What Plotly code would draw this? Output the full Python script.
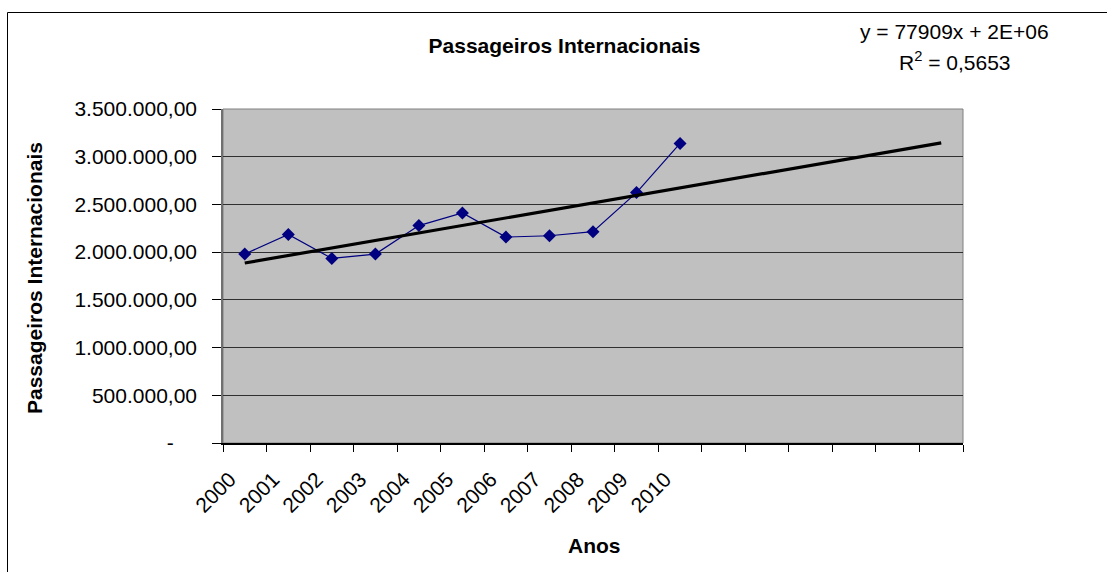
import numpy as np
import plotly.graph_objects as go

# ---- data ----
years = ["2000", "2001", "2002", "2003", "2004", "2005", "2006", "2007", "2008", "2009", "2010"]
passageiros = [1980000, 2186000, 1934000, 1980000, 2278000, 2410000, 2158000, 2172000, 2215000, 2624000, 3139000]
forecast_periods = 6
y_tickvals = [0, 500000, 1000000, 1500000, 2000000, 2500000, 3000000, 3500000]
y_ticktext = ["-\u00a0\u00a0\u00a0\u00a0", "500.000,00", "1.000.000,00", "1.500.000,00",
              "2.000.000,00", "2.500.000,00", "3.000.000,00", "3.500.000,00"]
equation_text = "y = 77909x + 2E+06"
r2_text = "R<sup>2</sup> = 0,5653"

n_data = len(years)
n_cat = n_data + forecast_periods
x_data = np.arange(1, n_data + 1)

# linear trend (Excel-style, x = 1..n) extended forward
slope, intercept = np.polyfit(x_data, np.array(passageiros, dtype=float), 1)
x_trend = np.array([1, n_cat])
y_trend = slope * x_trend + intercept

FONT = "Liberation Sans, Arial, sans-serif"
W, H = 1107, 572
ML, MR, MT, MB = 223, 144, 109, 129
PW, PH = W - ML - MR, H - MT - MB


def px(X):
    return (X - ML) / PW


def py(Y):
    return (H - MB - Y) / PH


fig = go.Figure()
fig.add_trace(go.Scatter(
    x=x_data, y=passageiros, mode="lines+markers",
    line=dict(color="#000080", width=1.2),
    marker=dict(symbol="diamond", size=10, color="#000080"),
    showlegend=False, hoverinfo="skip"))
fig.add_trace(go.Scatter(
    x=x_trend, y=y_trend, mode="lines",
    line=dict(color="black", width=3.2),
    showlegend=False, hoverinfo="skip"))

fig.update_layout(
    width=W, height=H,
    margin=dict(l=ML, r=MR, t=MT, b=MB, pad=0),
    paper_bgcolor="white", plot_bgcolor="#C0C0C0",
    font=dict(family=FONT, size=21, color="black"),
    title=dict(text="<b>Passageiros Internacionais</b>", x=564.5 / W, y=1 - 46 / H,
               xanchor="center", yanchor="middle", font=dict(size=21)),
    xaxis=dict(range=[0.5, n_cat + 0.5], tickvals=list(x_data), ticktext=years,
               tickangle=-45, ticks="", showgrid=False, zeroline=False,
               showline=True, linecolor="black", linewidth=1.5,
               minor=dict(tickvals=[i + 0.5 for i in range(n_cat + 1)], ticks="outside",
                          ticklen=7, tickcolor="black", tickwidth=1, showgrid=False),
               ticklabelstandoff=14, ticklabelshift=-15,
               tickfont=dict(size=21)),
    yaxis=dict(range=[0, 3500000], tickvals=y_tickvals, ticktext=y_ticktext,
               ticks="outside", ticklen=9, tickcolor="black", tickwidth=1,
               showgrid=True, gridcolor="#303030", gridwidth=1, zeroline=False,
               showline=True, linecolor="#707070", linewidth=1.5,
               ticklabelstandoff=11, tickfont=dict(size=21)),
    annotations=[
        dict(text=equation_text, x=px(954), y=py(31), xref="paper", yref="paper",
             xanchor="center", yanchor="middle", showarrow=False, font=dict(size=21)),
        dict(text=r2_text, x=px(955), y=py(61), xref="paper", yref="paper",
             xanchor="center", yanchor="middle", showarrow=False, font=dict(size=21)),
        dict(text="<b>Anos</b>", x=px(594), y=py(545), xref="paper", yref="paper",
             xanchor="center", yanchor="middle", showarrow=False, font=dict(size=21)),
        dict(text="<b>Passageiros Internacionais</b>", x=px(34), y=py(278), xref="paper",
             yref="paper", xanchor="center", yanchor="middle", textangle=-90,
             showarrow=False, font=dict(size=21)),
    ],
    shapes=[
        dict(type="rect", xref="paper", yref="paper", x0=0, x1=1, y0=0, y1=1,
             line=dict(color="#808080", width=1), layer="below"),
        dict(type="rect", xref="paper", yref="paper", x0=px(7.5), x1=px(1120),
             y0=py(590), y1=py(12.5), line=dict(color="black", width=1)),
    ],
)

fig.write_html("out.html")
